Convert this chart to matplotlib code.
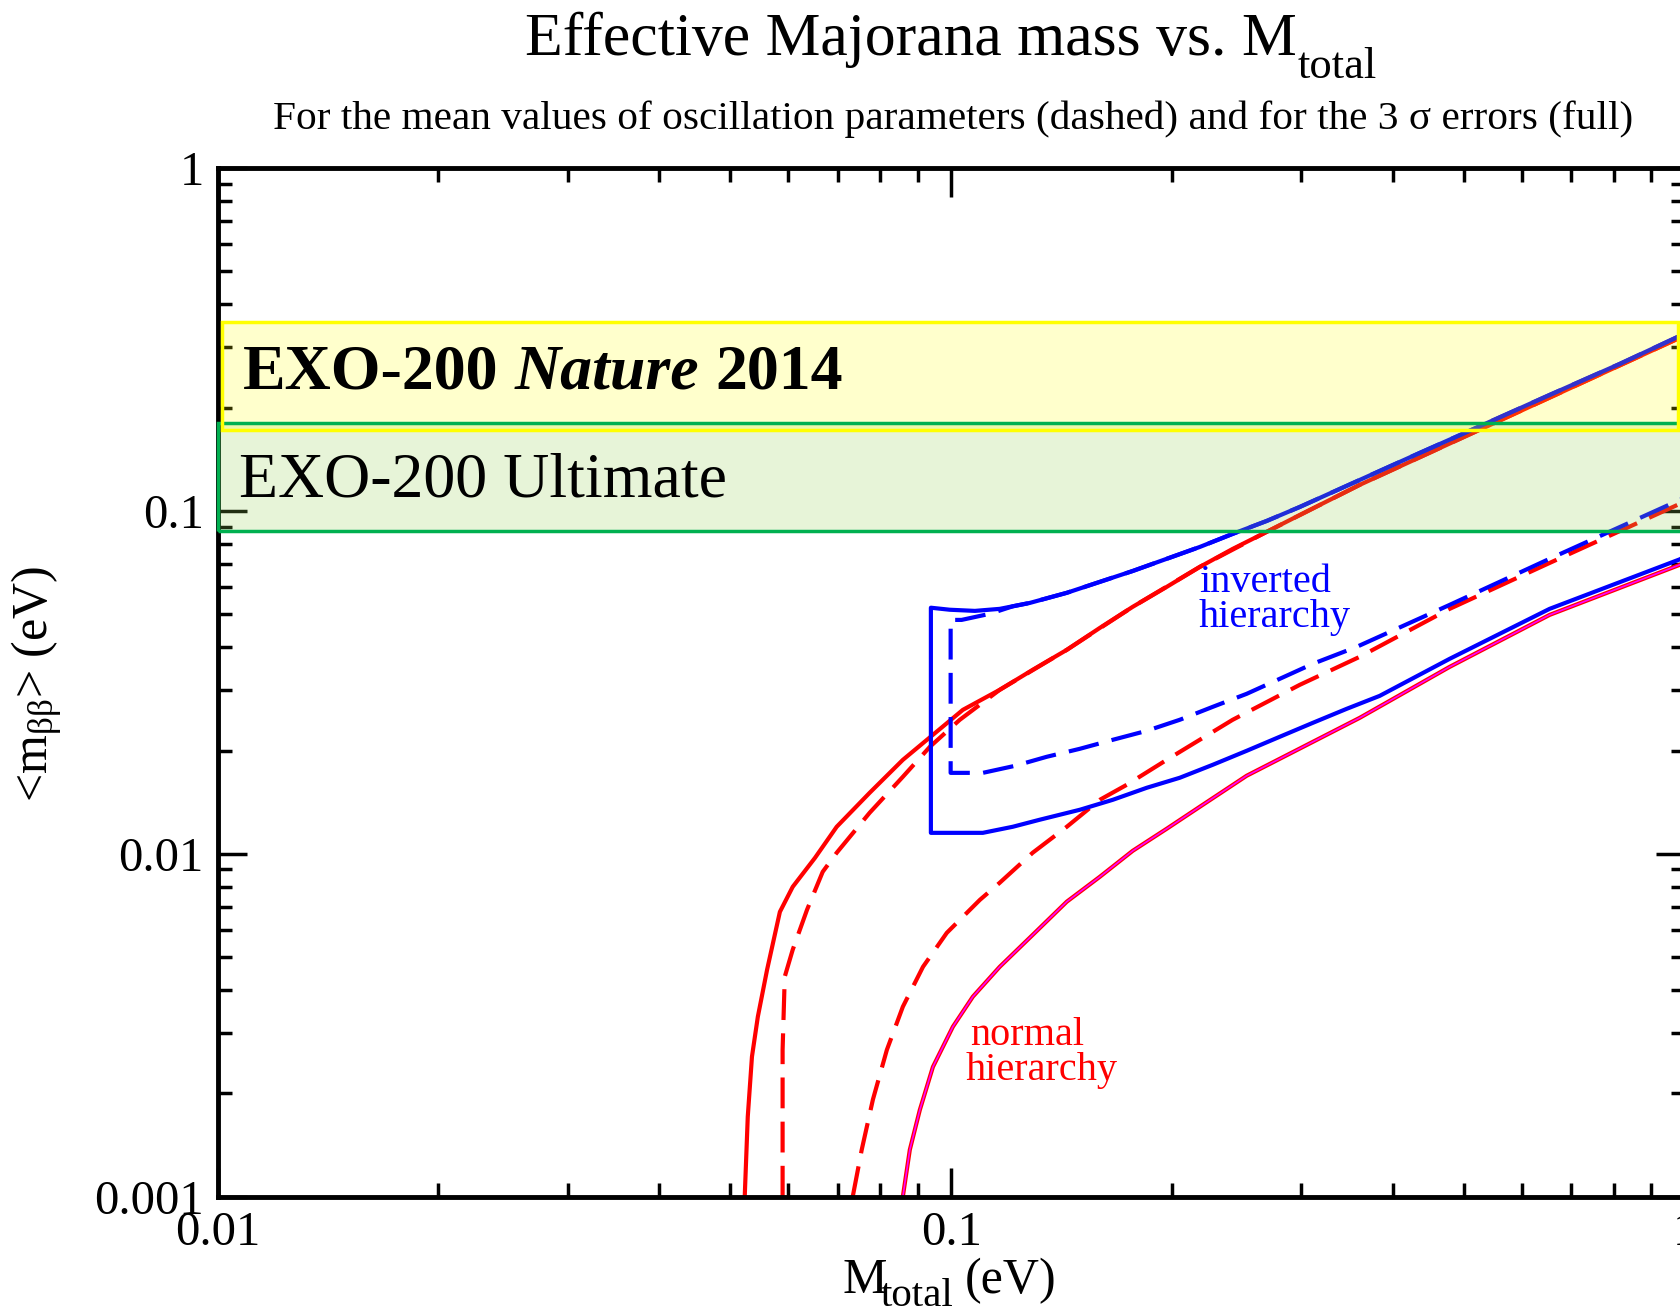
import matplotlib
matplotlib.use("Agg")
import matplotlib.pyplot as plt
from matplotlib.ticker import LogLocator, NullFormatter, FixedLocator

plt.rcParams["font.family"] = ["Liberation Serif", "DejaVu Serif"]
plt.rcParams["mathtext.fontset"] = "custom"
plt.rcParams["mathtext.rm"] = "Liberation Serif"
plt.rcParams["mathtext.it"] = "Liberation Serif:italic"
plt.rcParams["mathtext.bf"] = "Liberation Serif:bold"

# -----------------------------
# Data, M_total (eV) vs <m_bb> (eV)
# -----------------------------
# normal hierarchy, 3 sigma, upper edge (red solid)
nh_3s_up_m = [0.0523, 0.0528, 0.0535, 0.0545, 0.0561, 0.0584, 0.0608, 0.0652, 0.0698, 0.0774,
              0.0859, 0.0944, 0.1037, 0.1164, 0.1291, 0.1437, 0.1594, 0.1767, 0.1966, 0.2181,
              0.2418, 0.2691, 0.2985, 0.3602, 0.9829, 1.0]
nh_3s_up_mbb = [0.001, 0.00171, 0.00256, 0.00335, 0.00459, 0.00677, 0.00801, 0.00973, 0.01199, 0.01506,
                0.01879, 0.02223, 0.02629, 0.03007, 0.0344, 0.03934, 0.04559, 0.05251, 0.06004, 0.06866,
                0.07747, 0.0869, 0.0973, 0.1191, 0.3195, 0.325]

# normal hierarchy, mean values, upper edge (red dashed)
nh_mean_up_m = [0.0589, 0.0589, 0.0593, 0.0608, 0.0636, 0.0668, 0.0698, 0.0774, 0.0859,
                0.0935, 0.1027, 0.1164, 0.1437, 0.1767, 0.2181, 0.2691, 0.3602, 1.0]
nh_mean_up_mbb = [0.001, 0.00268, 0.00438, 0.00525, 0.00687, 0.00886, 0.01007, 0.01317, 0.01677,
                  0.02051, 0.02459, 0.03007, 0.03934, 0.05251, 0.06866, 0.0869, 0.1191, 0.325]

# normal hierarchy, mean values, lower edge (red dashed)
nh_mean_lo_m = [0.0734, 0.0755, 0.0782, 0.0817, 0.0859, 0.0915, 0.0986, 0.1094, 0.1164, 0.1291,
                0.1437, 0.1594, 0.1734, 0.1966, 0.2418, 0.2985, 0.3602, 0.4777, 0.6537, 0.983, 1.0]
nh_mean_lo_mbb = [0.001, 0.00137, 0.00192, 0.00268, 0.00358, 0.00468, 0.00588, 0.00734, 0.00823, 0.01007,
                  0.01199, 0.01437, 0.01589, 0.01879, 0.02459, 0.0311, 0.03753, 0.0518, 0.0705, 0.1048, 0.1068]

# normal hierarchy, 3 sigma, lower edge (red/magenta solid)
nh_3s_lo_m = [0.0859, 0.0878, 0.0906, 0.0944, 0.1005, 0.1070, 0.1164, 0.1291, 0.1437, 0.1594,
              0.1767, 0.1966, 0.2181, 0.2527, 0.3602, 0.4777, 0.6537, 0.983, 1.0]
nh_3s_lo_mbb = [0.001, 0.00137, 0.00179, 0.00239, 0.00313, 0.00383, 0.00468, 0.0058, 0.00725, 0.00857,
                0.0102, 0.01183, 0.01371, 0.01689, 0.02491, 0.03508, 0.04974, 0.0696, 0.0705]

# inverted hierarchy, 3 sigma (blue solid): upper edge -> cut-off -> lower edge
ih_3s_m = [1.0, 0.9829, 0.8144, 0.6537, 0.5298, 0.4348, 0.3602, 0.2985, 0.2691, 0.2418, 0.2181,
           0.1966, 0.1767, 0.1594, 0.1437, 0.1279, 0.1164, 0.1077, 0.0995, 0.0938,
           0.0938, 0.1104, 0.1213, 0.1320, 0.1497, 0.1660, 0.1847, 0.2048, 0.2272, 0.2527,
           0.2803, 0.3109, 0.3458, 0.3836, 0.4777, 0.6537, 0.9829, 1.0]
ih_3s_mbb = [0.330, 0.3237, 0.2683, 0.2179, 0.1781, 0.1476, 0.1231, 0.1027, 0.0935, 0.0857, 0.0785,
             0.0725, 0.0668, 0.0621, 0.0577, 0.0539, 0.0518, 0.0511, 0.0515, 0.0522,
             0.01151, 0.01151, 0.01199, 0.01257, 0.01344, 0.01437, 0.01558, 0.01666, 0.01818, 0.01997,
             0.02194, 0.02409, 0.02647, 0.02888, 0.03703, 0.0518, 0.0722, 0.0735]

# inverted hierarchy, mean values (blue dashed)
ih_mean_m = [1.0, 0.9829, 0.8144, 0.6537, 0.5298, 0.4348, 0.3602, 0.2985, 0.2691, 0.2418, 0.2181,
             0.1966, 0.1767, 0.1594, 0.1437, 0.1279, 0.1213, 0.1128, 0.1033,
             0.0998, 0.0998, 0.1104, 0.1221, 0.1349, 0.1497, 0.1660, 0.1847, 0.2048, 0.2272, 0.2527,
             0.2803, 0.3109, 0.3568, 0.4777, 0.6537, 0.9829, 1.0]
ih_mean_mbb = [0.330, 0.3237, 0.2683, 0.2179, 0.1781, 0.1476, 0.1231, 0.1027, 0.0935, 0.0857, 0.0785,
               0.0725, 0.0668, 0.0621, 0.0577, 0.0539, 0.0527, 0.0501, 0.0481,
               0.0481, 0.01722, 0.01722, 0.01805, 0.01918, 0.02024, 0.0215, 0.02284, 0.02459, 0.02683, 0.02928,
               0.03238, 0.03581, 0.04013, 0.0532, 0.0725, 0.1076, 0.1095]

# experimental sensitivity bands (eV)
exo_2014_band = [0.1722, 0.3556]
exo_ultimate_band = [0.0871, 0.1809]

x_ticks = [0.01, 0.1, 1]
x_tick_labels = ["0.01", "0.1", "1"]
y_ticks = [0.001, 0.01, 0.1, 1]
y_tick_labels = ["0.001", "0.01", "0.1", "1"]

BLUE = "#0000ff"
RED = "#ff0000"
MAGENTA = "#ff00ff"
DASH = (7.4, 3.2)

# -----------------------------
# Figure
# -----------------------------
W, H = 1681, 1315
fig = plt.figure(figsize=(W / 100, H / 100), dpi=100)
ax = fig.add_axes([0.1294, 0.0900, 0.8730, 0.7822])
ax.set_xscale("log")
ax.set_yscale("log")
ax.set_xlim(0.01, 1)
ax.set_ylim(0.001, 1)

lw = 3.0
ax.plot(nh_3s_up_m, nh_3s_up_mbb, color=RED, lw=lw, zorder=2)
ax.plot(nh_mean_up_m, nh_mean_up_mbb, color=RED, lw=lw, dashes=DASH, zorder=2)
ax.plot(nh_mean_lo_m, nh_mean_lo_mbb, color=RED, lw=lw, dashes=DASH, zorder=2)
ax.plot(nh_3s_lo_m, nh_3s_lo_mbb, color=RED, lw=lw, zorder=2)
ax.plot(nh_3s_lo_m, nh_3s_lo_mbb, color=MAGENTA, lw=1.2, zorder=2.1)
ax.plot(ih_mean_m, ih_mean_mbb, color=BLUE, lw=lw, dashes=DASH, zorder=2.2)
ax.plot(ih_3s_m, ih_3s_mbb, color=BLUE, lw=lw, zorder=2.3)

# bands (drawn above curves and ticks, semi transparent)
ax.axhspan(*exo_ultimate_band, xmin=0, xmax=1, facecolor="#92d050", alpha=0.22,
           lw=0, zorder=3)
ax.axhspan(*exo_2014_band, xmin=0.003, xmax=0.995, facecolor="#ffff00", alpha=0.2,
           lw=0, zorder=3)
ax.axhspan(*exo_ultimate_band, xmin=0, xmax=1, fill=False, edgecolor="#00b050",
           lw=2.5, zorder=3.1, clip_on=False)
ax.axhspan(*exo_2014_band, xmin=0.003, xmax=0.995, fill=False, edgecolor="#ffff00",
           lw=2.5, zorder=3.2, clip_on=False)

# band labels
t1 = ax.text(0.01083, 0.2268, "EXO-200", fontsize=46, fontweight="bold",
             va="baseline", zorder=4)
t2 = ax.annotate("Nature", xy=(1, 0), xycoords=t1, xytext=(11.5, 0),
                 textcoords="offset points", fontsize=46, fontweight="bold",
                 fontstyle="italic", va="bottom", zorder=4)
ax.annotate("2014", xy=(1, 0), xycoords=t2, xytext=(11.5, 0),
            textcoords="offset points", fontsize=46, fontweight="bold",
            va="bottom", zorder=4)
ax.text(0.0107, 0.1099, "EXO-200 Ultimate", fontsize=46, va="baseline", zorder=4)

# hierarchy labels
ax.text(0.2174, 0.0580, "inverted", fontsize=29, color=BLUE, va="baseline", zorder=4)
ax.text(0.2174, 0.0459, "hierarchy", fontsize=29, color=BLUE, va="baseline", zorder=4)
ax.text(0.1060, 0.00277, "normal", fontsize=29, color=RED, va="baseline", zorder=4)
ax.text(0.1047, 0.00219, "hierarchy", fontsize=29, color=RED, va="baseline", zorder=4)

# axes styling
for s in ax.spines.values():
    s.set_linewidth(3.5)
ax.xaxis.set_major_locator(FixedLocator(x_ticks))
ax.yaxis.set_major_locator(FixedLocator(y_ticks))
ax.set_xticklabels(x_tick_labels)
ax.set_yticklabels(y_tick_labels)
ax.xaxis.set_minor_locator(LogLocator(base=10, subs=range(2, 10)))
ax.yaxis.set_minor_locator(LogLocator(base=10, subs=range(2, 10)))
ax.xaxis.set_minor_formatter(NullFormatter())
ax.yaxis.set_minor_formatter(NullFormatter())
ax.tick_params(which="both", direction="in", top=True, right=True, width=2.5,
               labelsize=35, pad=10)
ax.tick_params(which="major", length=21)
ax.tick_params(which="minor", length=10)


# titles and axis labels (pixel positions from top-left)
def ftext(px, py, s, **kw):
    return fig.text(px / W, 1 - py / H, s, va="baseline", **kw)


ftext(525, 55, "Effective Majorana mass vs. M", fontsize=44.5)
ftext(1298, 78, "total", fontsize=32)
ftext(273, 129,
      "For the mean values of oscillation parameters (dashed) and for the 3 σ errors (full)",
      fontsize=29.7)
ftext(843, 1293, "M", fontsize=36)
ftext(881, 1306, "total", fontsize=29.5)
ftext(965, 1293, "(eV)", fontsize=36)
fig.text(37 / W, 1 - 684 / H, "<m$_{\\mathrm{ββ}}$> (eV)", fontsize=36,
         rotation=90, ha="center", va="center")

fig.savefig("out.png", dpi=100)
